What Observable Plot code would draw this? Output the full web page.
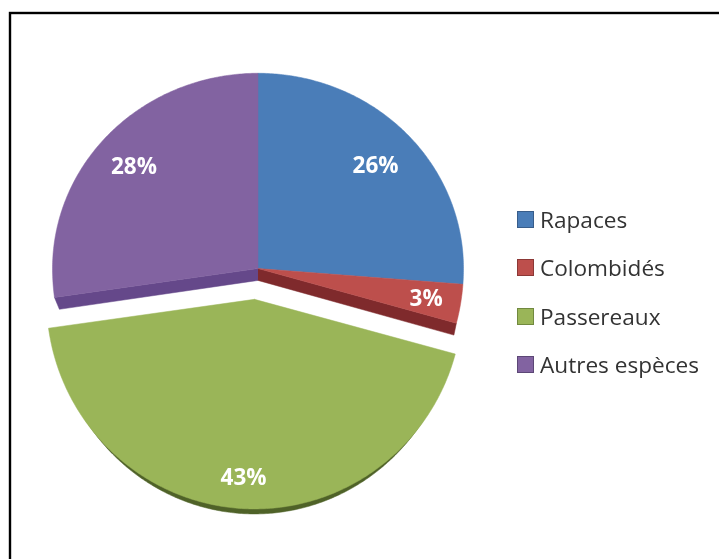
<!DOCTYPE html>
<html>
<head>
<meta charset="utf-8">
<script src="https://cdn.jsdelivr.net/npm/d3@7"></script>
<script src="https://cdn.jsdelivr.net/npm/@observablehq/plot@0.6"></script>
<style>
  html, body { margin: 0; padding: 0; background: #fff; }
  #chart { position: relative; width: 719px; height: 559px; overflow: hidden; }
  #chart svg { display: block; background: #fff; filter: blur(0.4px); }
  #legend { position: absolute; left: 517px; top: 195px; font: 22.6px "Open Sans", sans-serif; color: #333; filter: blur(0.4px); }
  #legend div { height: 48.5px; display: flex; align-items: center; white-space: nowrap; }
  #legend i { display: block; width: 15px; height: 15px; border: 1.5px solid; margin-right: 6px; flex: none; }
</style>
</head>
<body>
<div id="chart"></div>
<script>
const categories = ["Rapaces", "Colombidés", "Passereaux", "Autres espèces"];
const shares = [26.2, 3.0, 43.6, 27.2];          // slice areas
const labels = ["26%", "3%", "43%", "28%"];
const colors = ["#4a7db8", "#bd4f4c", "#9ab558", "#8263a1"];
const sideColors = ["#39608f", "#7f2a2c", "#4f6228", "#65488a"];
const borderColors = ["#385d8a", "#8c3836", "#71893f", "#5c4776"];
const exploded = [false, false, true, false];
const labelRadius = [0.78, 0.83, 0.85, 0.8];

// Unit pie seen from slightly above; the pulled-out slice sits nearer the viewer
const backRatio = 0.95, frontRatio = 1.02, depth = 0.058, nearScale = 1.012;
const ends = d3.cumsum(shares);
const total = ends[ends.length - 1];
const ang = (v) => (v / total) * 2 * Math.PI;
const offset = (i) => (exploded[i] ? { x: -0.017, y: -0.15 } : { x: 0, y: 0 });
const rim = (t, r = 1) => ({
  x: r * Math.sin(t),
  y: r * Math.cos(t) * (Math.cos(t) > 0 ? backRatio : frontRatio)
});

function slice(i) {
  const a0 = ang(i ? ends[i - 1] : 0), a1 = ang(ends[i]);
  const o = offset(i);
  const k = exploded[i] ? nearScale : 1;
  const pts = [{ x: o.x, y: o.y }];
  for (const t of d3.range(a0, a1, 0.01)) { const p = rim(t); pts.push({ x: p.x * k + o.x, y: p.y + o.y }); }
  const p = rim(a1); pts.push({ x: p.x * k + o.x, y: p.y + o.y });
  pts.push({ x: o.x, y: o.y });
  return pts.map((q) => ({ ...q, part: categories[i] }));
}

const tops = categories.flatMap((_, i) => slice(i));

// Visible side walls: rim of the exploded slice, and the two cut faces next to the gap
const greenOffset = offset(2);
const greenSide = slice(2).map((q) => ({
  x: greenOffset.x + (q.x - greenOffset.x) * 0.975,
  y: q.y - depth * 0.42,
  part: categories[2] + " side"
}));
const purpleEdge = rim(ang(ends[2]));
const redEdge = rim(ang(ends[1]));
const walls = [
  { x: 0, y: 0, part: categories[3] + " side" },
  { x: purpleEdge.x, y: purpleEdge.y, part: categories[3] + " side" },
  { x: purpleEdge.x + 0.024, y: purpleEdge.y - depth, part: categories[3] + " side" },
  { x: 0, y: -depth, part: categories[3] + " side" },
  { x: 0, y: 0, part: categories[1] + " side" },
  { x: redEdge.x, y: redEdge.y, part: categories[1] + " side" },
  { x: redEdge.x - 0.012, y: redEdge.y - depth, part: categories[1] + " side" },
  { x: 0, y: -depth, part: categories[1] + " side" }
];

const labelRows = labels.map((text, i) => {
  const mid = ang((i ? ends[i - 1] : 0) + shares[i] / 2);
  const p = rim(mid, labelRadius[i]), o = offset(i);
  return { text, x: p.x + o.x, y: p.y + o.y };
});

const colorDomain = [...categories, ...categories.map((c) => c + " side")];
const colorRange = [...colors, ...sideColors];

const unit = 205.5, cx = 257.5, cy = 268;
const plot = Plot.plot({
  width: 719, height: 559,
  marginTop: 0, marginRight: 0, marginBottom: 0, marginLeft: 0,
  style: { background: "#fff" },
  x: { domain: [-cx / unit, (719 - cx) / unit], range: [0, 719], axis: null },
  y: { domain: [cy / unit, -(559 - cy) / unit], range: [0, 559], axis: null },
  color: { type: "ordinal", domain: colorDomain, range: colorRange },
  marks: [
    Plot.frame({ stroke: "#000", strokeWidth: 2.4, insetLeft: 9.5, insetTop: 12.5, insetRight: -6, insetBottom: -6 }),
    Plot.line(greenSide, { x: "x", y: "y", z: "part", fill: "part", stroke: "part", strokeWidth: 0.5, curve: "linear" }),
    Plot.line(walls, { x: "x", y: "y", z: "part", fill: "part", stroke: "part", strokeWidth: 0.5, curve: "linear" }),
    Plot.line(tops, { x: "x", y: "y", z: "part", fill: "part", stroke: "part", strokeWidth: 0.5, curve: "linear" }),
    Plot.text(labelRows, { x: "x", y: "y", text: "text", fill: "#fff", dy: 1, fontSize: 22.5, fontWeight: 700, fontFamily: "'Open Sans', sans-serif" })
  ]
});

const chart = document.getElementById("chart");
chart.appendChild(plot);

const legend = document.createElement("div");
legend.id = "legend";
categories.forEach((name, i) => {
  const row = document.createElement("div");
  const sw = document.createElement("i");
  sw.style.background = colors[i];
  sw.style.borderColor = borderColors[i];
  row.appendChild(sw);
  row.appendChild(document.createTextNode(name));
  legend.appendChild(row);
});
chart.appendChild(legend);
</script>
</body>
</html>
